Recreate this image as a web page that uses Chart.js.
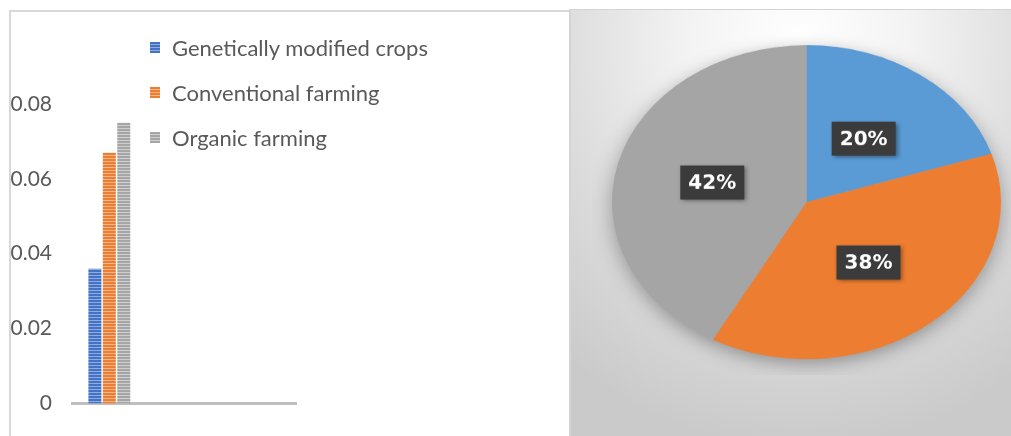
<!DOCTYPE html>
<html>
<head>
<meta charset="utf-8">
<script src="https://cdn.jsdelivr.net/npm/chart.js@4.4.1/dist/chart.umd.min.js"></script>
<style>
  html, body { margin: 0; padding: 0; background: #fff; overflow: hidden; }
  body { width: 1011px; height: 436px; position: relative; font-family: Lato, "Liberation Sans", sans-serif; }
  #leftPanel { position: absolute; left: 9px; top: 10px; width: 561px; height: 426px; border-left: 2px solid #d9d9d9; border-top: 2px solid #d9d9d9; box-sizing: border-box; }
  #rightPanel { position: absolute; left: 569px; top: 9px; width: 442px; height: 427px; box-sizing: border-box;
    border-left: 2px solid #d4d4d4; border-top: 1px solid #d4d4d4;
    background: radial-gradient(ellipse 85% 95% at 52% 8%, #ffffff 0%, #f3f3f3 30%, #dcdcdc 65%, #cacaca 100%); }
  #barBox { position: absolute; left: 11px; top: 12px; width: 558px; height: 424px; }
  #pieBox { position: absolute; left: 592px; top: 29px; width: 429px; height: 429px; transform: scaleY(0.807); transform-origin: top left; }
  #legend { position: absolute; left: 150px; top: 25px; }
  .item { height: 45px; display: flex; align-items: center; font-size: 22px; color: #595959; }
  .sw { width: 10px; height: 11px; margin-right: 12px; }
</style>
</head>
<body>
<div id="leftPanel"></div>
<div id="rightPanel"></div>
<div id="barBox"><canvas id="barChart"></canvas></div>
<div id="legend"></div>
<div id="pieBox"><canvas id="pieChart"></canvas></div>
<script>
// bar chart data (one category filled, two empty slots)
const barCategories = ['', '', ''];
const seriesNames = ['Genetically modified crops', 'Conventional farming', 'Organic farming'];
const gmValues = [0.036, null, null];
const convValues = [0.067, null, null];
const organicValues = [0.075, null, null];
const yTicks = [0, 0.02, 0.04, 0.06, 0.08];

// pie data
const pieLabels = ['Genetically modified crops', 'Conventional farming', 'Organic farming'];
const pieValues = [20, 38, 42];

const barColors = [['#4472C4', '#8FAADC'], ['#ED7D31', '#F6B68A'], ['#A5A5A5', '#CFCFCF']];
const pieColors = ['#5B9BD5', '#ED7D31', '#A5A5A5'];
const Y_SCALE = 0.807;

function stripes(base, light) {
    const c = document.createElement('canvas');
    c.width = 4; c.height = 3;
    const x = c.getContext('2d');
    x.fillStyle = base; x.fillRect(0, 0, 4, 3);
    x.fillStyle = light; x.fillRect(0, 2, 4, 1);
    return x.createPattern(c, 'repeat');
}

// html legend
const legendEl = document.getElementById('legend');
seriesNames.forEach((name, i) => {
    const row = document.createElement('div');
    row.className = 'item';
    const sw = document.createElement('div');
    sw.className = 'sw';
    sw.style.background = `repeating-linear-gradient(to bottom, ${barColors[i][0]} 0px, ${barColors[i][0]} 2px, ${barColors[i][1]} 2px, ${barColors[i][1]} 3px)`;
    row.appendChild(sw);
    row.appendChild(document.createTextNode(name));
    legendEl.appendChild(row);
});

const barData = [gmValues, convValues, organicValues];

new Chart(document.getElementById('barChart'), {
    type: 'bar',
    data: {
        labels: barCategories,
        datasets: barData.map((vals, i) => ({
            label: seriesNames[i],
            data: vals,
            backgroundColor: stripes(barColors[i][0], barColors[i][1]),
            borderWidth: 0,
            categoryPercentage: 0.58,
            barPercentage: 0.9
        }))
    },
    options: {
        responsive: true,
        maintainAspectRatio: false,
        animation: false,
        layout: { padding: { top: 92, right: 273, bottom: 30, left: 0 } },
        plugins: { legend: { display: false }, tooltip: { enabled: false } },
        scales: {
            x: {
                grid: { display: false },
                ticks: { display: false },
                border: { display: true, color: '#BFBFBF', width: 3 },
                afterFit: axis => { axis.height = 0; }
            },
            y: {
                min: 0, max: 0.08,
                afterBuildTicks: axis => { axis.ticks = yTicks.map(v => ({ value: v })); },
                grid: { display: false, drawTicks: false },
                border: { display: false },
                ticks: { color: '#595959', padding: 20, font: { family: 'Lato', size: 21 },
                    callback: v => v === 0 ? '0' : v.toFixed(2) },
                afterFit: axis => { axis.width = 61; }
            }
        }
    }
});

const pieDecor = {
    id: 'pieDecor',
    beforeDatasetsDraw(chart) {
        const arc = chart.getDatasetMeta(0).data[0];
        if (!arc) return;
        const ctx = chart.ctx;
        ctx.save();
        ctx.shadowColor = 'rgba(0,0,0,0.35)';
        ctx.shadowBlur = 22;
        ctx.shadowOffsetY = 6;
        ctx.fillStyle = '#A5A5A5';
        ctx.beginPath();
        ctx.arc(arc.x, arc.y, arc.outerRadius - 1, 0, Math.PI * 2);
        ctx.fill();
        ctx.restore();
    },
    afterDatasetsDraw(chart) {
        const ctx = chart.ctx;
        const meta = chart.getDatasetMeta(0);
        meta.data.forEach((arc, i) => {
            const p = arc.getCenterPoint();
            ctx.save();
            ctx.translate(p.x, p.y);
            ctx.scale(1, 1 / Y_SCALE);
            ctx.shadowColor = 'rgba(0,0,0,0.45)';
            ctx.shadowBlur = 5;
            ctx.shadowOffsetX = 2;
            ctx.shadowOffsetY = 2;
            ctx.fillStyle = '#3B3B3B';
            ctx.fillRect(-32, -17, 64, 34);
            ctx.shadowColor = 'transparent';
            ctx.fillStyle = '#ffffff';
            ctx.font = 'bold 20px "DejaVu Sans"';
            ctx.textAlign = 'center';
            ctx.textBaseline = 'middle';
            ctx.fillText(pieValues[i] + '%', 0, 1);
            ctx.restore();
        });
    }
};

new Chart(document.getElementById('pieChart'), {
    type: 'pie',
    data: {
        labels: pieLabels,
        datasets: [{ data: pieValues, backgroundColor: pieColors, borderWidth: 0 }]
    },
    options: {
        responsive: true,
        maintainAspectRatio: false,
        animation: false,
        layout: { padding: 20 },
        plugins: { legend: { display: false }, tooltip: { enabled: false } }
    },
    plugins: [pieDecor]
});
</script>
</body>
</html>
